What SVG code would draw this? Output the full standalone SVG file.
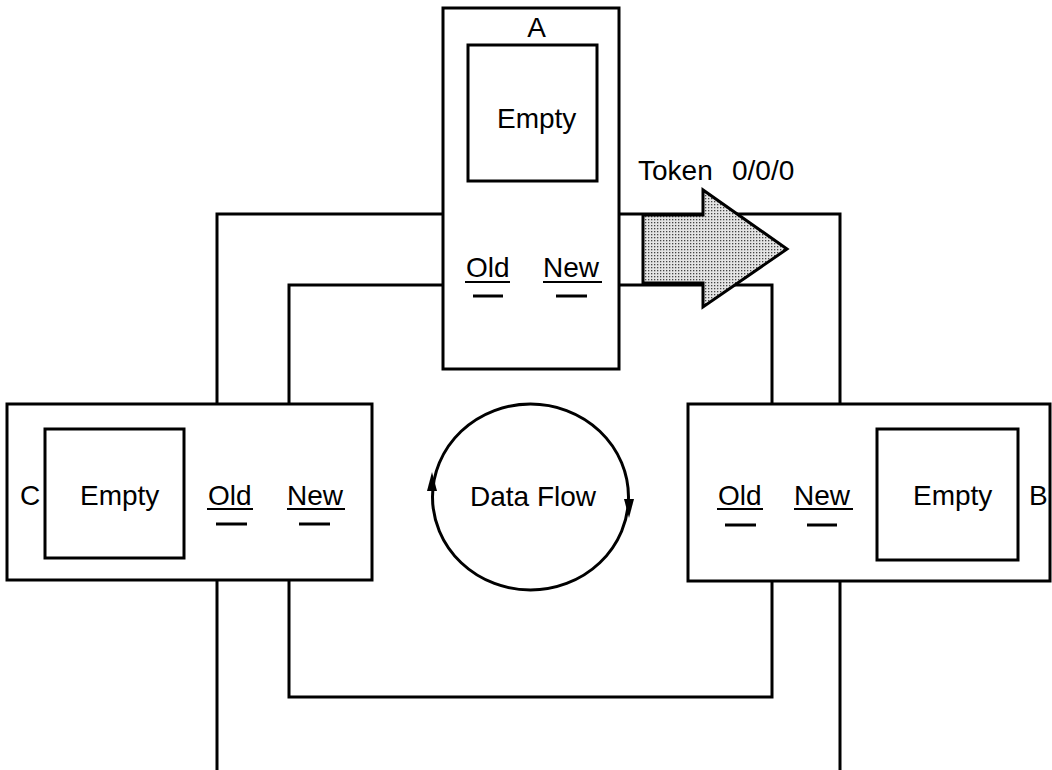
<svg xmlns="http://www.w3.org/2000/svg" width="1052" height="770" viewBox="0 0 1052 770">
<style>
  .box { fill: #ffffff; stroke: #000000; stroke-width: 3; }
  .inner { fill: #ffffff; stroke: #000000; stroke-width: 3; }
  .wire { fill: none; stroke: #000000; stroke-width: 3; }
  .ul { stroke: #000000; stroke-width: 2; }
  .dash { stroke: #000000; stroke-width: 3; }
  text { font-family: "Liberation Sans", Arial, Helvetica, sans-serif; font-size: 28px; fill: #000000; }
</style>
<defs>
  <pattern id="dots" width="3" height="3" patternUnits="userSpaceOnUse">
    <rect width="3" height="3" fill="#e4e4e4"/>
    <rect width="1.3" height="1.3" fill="#444444"/>
  </pattern>
</defs>
<rect width="1052" height="770" fill="#ffffff"/>

<g id="connectors">
  <path class="wire" d="M217,770 V214 H443"/>
  <path class="wire" d="M619,214 H840 V770"/>
  <path class="wire" d="M289,404 V285 H443"/>
  <path class="wire" d="M619,285 H772 V404"/>
  <path class="wire" d="M289,580 V697 H772 V580"/>
</g>

<g id="nodeA">
  <rect class="box" x="443" y="8" width="176" height="361"/>
  <text x="536.5" y="37" text-anchor="middle">A</text>
  <rect class="inner" x="468" y="45" width="129" height="136"/>
  <text x="497" y="128">Empty</text>
  <text x="466" y="277">Old</text>
  <line class="ul" x1="465" y1="282" x2="510" y2="282"/>
  <text x="543" y="277">New</text>
  <line class="ul" x1="543" y1="282" x2="602" y2="282"/>
  <line class="dash" x1="473" y1="296" x2="503" y2="296"/>
  <line class="dash" x1="556" y1="296" x2="587" y2="296"/>
</g>

<g id="nodeC">
  <rect class="box" x="7" y="404" width="365" height="176"/>
  <text x="20" y="505">C</text>
  <rect class="inner" x="45" y="429" width="139" height="129"/>
  <text x="80" y="505">Empty</text>
  <text x="208" y="505">Old</text>
  <line class="ul" x1="207" y1="509" x2="253" y2="509"/>
  <text x="287" y="505">New</text>
  <line class="ul" x1="287" y1="509" x2="345" y2="509"/>
  <line class="dash" x1="216" y1="524" x2="247" y2="524"/>
  <line class="dash" x1="299" y1="524" x2="330" y2="524"/>
</g>

<g id="nodeB">
  <rect class="box" x="688" y="404" width="362" height="177"/>
  <text x="718" y="505">Old</text>
  <line class="ul" x1="717" y1="509" x2="763" y2="509"/>
  <text x="794" y="505">New</text>
  <line class="ul" x1="794" y1="509" x2="853" y2="509"/>
  <line class="dash" x1="725" y1="525" x2="756" y2="525"/>
  <line class="dash" x1="807" y1="525" x2="837" y2="525"/>
  <rect class="inner" x="877" y="429" width="141" height="131"/>
  <text x="913" y="505">Empty</text>
  <text x="1029" y="505">B</text>
</g>

<g id="token">
  <polygon points="643,215 703,215 703,190 787,249 703,307 703,283 643,283" fill="url(#dots)" stroke="#000000" stroke-width="3" stroke-linejoin="miter"/>
  <text x="638" y="180">Token</text>
  <text x="732" y="180">0/0/0</text>
</g>

<g id="dataflow">
  <ellipse cx="530.5" cy="497" rx="98" ry="93" fill="none" stroke="#000000" stroke-width="3"/>
  <polygon points="432,472 427,491 437,491" fill="#000000"/>
  <polygon points="629,518 624,499 634,499" fill="#000000"/>
  <text x="470" y="506">Data Flow</text>
</g>
</svg>
